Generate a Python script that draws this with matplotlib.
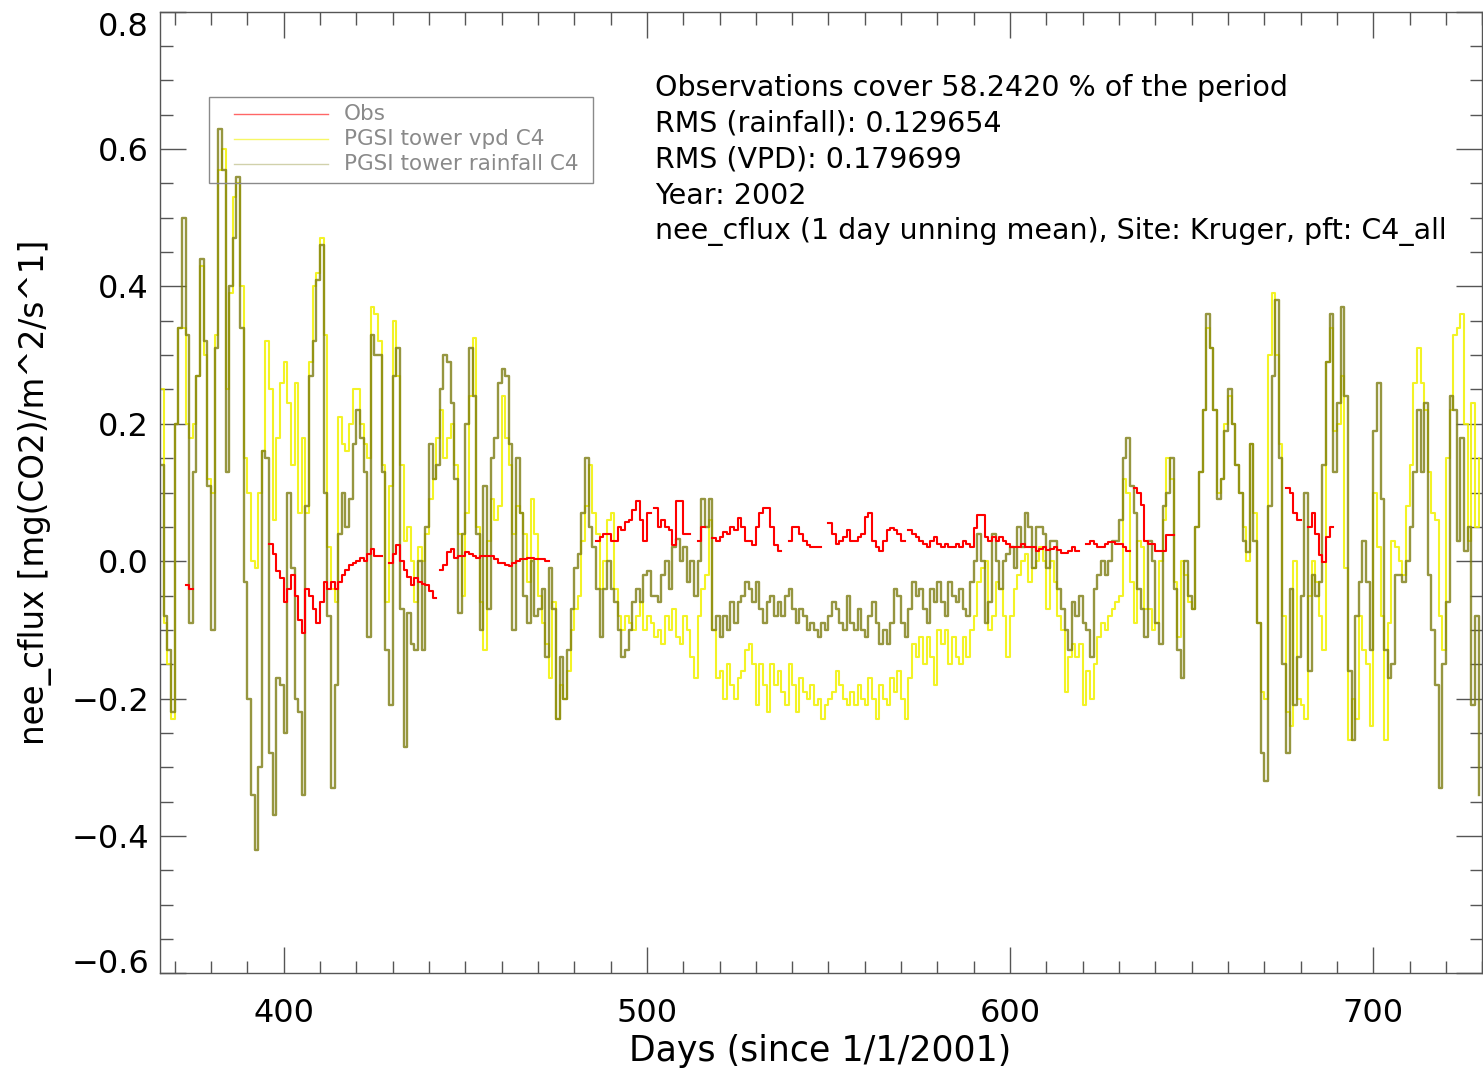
import numpy as np
import matplotlib
matplotlib.use("Agg")
import matplotlib.pyplot as plt
from matplotlib.patches import Rectangle
from matplotlib.ticker import MultipleLocator

n = np.nan
first_day = 366

# PGSI tower rainfall C4 (one value per day, from day 366)
rain_c4 = [
    0.14, -0.08, -0.13, -0.22, 0.2, 0.34, 0.5, 0.33, -0.09, 0.13,
    0.27, 0.44, 0.32, 0.11, -0.1, 0.31, 0.63, 0.57, 0.13, 0.4,
    0.47, 0.56, 0.34, -0.03, -0.2, -0.34, -0.42, -0.3, 0.16, 0.15,
    -0.28, -0.37, -0.17, -0.18, -0.25, 0.1, -0.01, -0.2, -0.22, -0.34,
    0.08, 0.27, 0.32, 0.41, 0.46, 0.1, -0.08, -0.33, -0.18, 0.04,
    0.1, 0.05, 0.09, 0.17, 0.22, 0.18, 0.13, -0.11, 0.33, 0.3,
    0.3, 0.13, -0.13, -0.21, 0.27, 0.31, -0.07, -0.27, -0.075, -0.12,
    -0.13, -0.0, -0.13, 0.05, 0.17, 0.12, 0.14, 0.25, 0.3, 0.29,
    0.23, 0.12, -0.075, 0.04, 0.2, 0.31, 0.24, 0.04, -0.1, 0.11,
    -0.07, 0.15, 0.18, 0.26, 0.28, 0.27, 0.17, -0.1, 0.15, 0.07,
    -0.05, -0.09, -0.0, -0.08, -0.07, -0.04, -0.14, -0.01, -0.07, -0.23,
    -0.14, -0.2, -0.13, -0.07, -0.01, 0.01, 0.07, 0.15, 0.05, 0.02,
    -0.04, -0.11, -0.04, 0.0, -0.04, -0.06, -0.1, -0.14, -0.13, -0.1,
    -0.06, -0.04, -0.06, -0.02, -0.015, -0.05, -0.05, -0.06, -0.02, 0.0,
    -0.04, 0.02, 0.033, 0.0, 0.02, -0.03, 0.0, -0.05, 0.0, 0.09,
    0.05, 0.09, -0.1, -0.08, -0.11, -0.08, -0.1, -0.06, -0.09, -0.06,
    -0.05, -0.03, -0.04, -0.06, -0.03, -0.07, -0.09, -0.06, -0.05, -0.08,
    -0.06, -0.08, -0.05, -0.04, -0.07, -0.09, -0.07, -0.08, -0.1, -0.09,
    -0.1, -0.11, -0.09, -0.1, -0.08, -0.06, -0.07, -0.09, -0.1, -0.05,
    -0.09, -0.1, -0.07, -0.1, -0.11, -0.08, -0.06, -0.09, -0.12, -0.1,
    -0.12, -0.09, -0.04, -0.05, -0.09, -0.11, -0.07, -0.03, -0.05, -0.04,
    -0.07, -0.09, -0.04, -0.06, -0.03, -0.06, -0.08, -0.03, -0.05, -0.06,
    -0.04, -0.07, -0.08, -0.03, 0.0, 0.04, 0.0, -0.09, -0.06, 0.04,
    0.0, -0.04, 0.0, 0.01, 0.02, -0.01, 0.05, 0.02, 0.07, 0.05,
    -0.01, 0.05, 0.05, 0.04, -0.01, 0.03, 0.03, -0.04, -0.07, -0.1,
    -0.13, -0.06, -0.08, -0.05, -0.09, -0.1, -0.14, -0.04, -0.02, 0.0,
    -0.02, 0.0, 0.03, 0.03, 0.06, 0.15, 0.18, 0.11, 0.07, -0.04,
    -0.07, -0.11, 0.03, -0.0, -0.09, -0.12, 0.08, 0.1, 0.15, -0.04,
    -0.13, -0.17, 0.0, -0.05, -0.07, 0.05, 0.13, 0.22, 0.36, 0.31,
    0.22, 0.09, 0.12, 0.19, 0.25, 0.2, 0.14, 0.1, 0.03, 0.014,
    0.17, 0.03, -0.09, -0.28, -0.32, 0.08, 0.27, 0.38, 0.15, -0.15,
    -0.28, -0.04, -0.21, -0.14, -0.05, 0.1, -0.16, -0.02, -0.05, -0.03,
    0.14, 0.29, 0.36, 0.13, 0.23, 0.37, 0.24, -0.16, -0.26, -0.08,
    -0.03, 0.03, -0.03, -0.13, 0.19, 0.26, 0.09, -0.13, -0.17, -0.15,
    -0.02, -0.02, -0.03, 0.0, 0.05, 0.13, 0.22, 0.13, 0.23, -0.02,
    -0.1, -0.18, -0.33, -0.15, -0.06, 0.24, 0.22, 0.03, 0.18, 0.015,
    0.05, -0.21, -0.08, -0.34,
]

# PGSI tower vpd C4
vpd_c4 = [
    0.25, -0.09, -0.15, -0.23, 0.2, 0.34, 0.34, 0.2, 0.18, 0.2,
    0.27, 0.43, 0.3, 0.12, 0.1, 0.33, 0.57, 0.6, 0.25, 0.39,
    0.53, 0.55, 0.4, 0.15, 0.1, 0.0, -0.01, 0.1, 0.16, 0.32,
    0.25, 0.06, 0.18, 0.26, 0.29, 0.23, 0.14, 0.26, 0.07, 0.18,
    0.07, 0.29, 0.4, 0.42, 0.47, 0.33, 0.02, -0.04, -0.06, 0.21,
    0.17, 0.16, 0.2, 0.25, 0.25, 0.2, 0.17, 0.15, 0.37, 0.36,
    0.32, 0.14, -0.06, 0.11, 0.35, 0.27, 0.14, 0.03, 0.05, 0.0,
    -0.06, 0.02, 0.0, 0.04, 0.09, 0.12, 0.18, 0.22, 0.15, 0.18,
    0.2, 0.14, 0.04, -0.05, 0.07, 0.24, 0.325, 0.05, -0.06, -0.13,
    0.03, 0.09, 0.06, 0.08, 0.24, 0.18, 0.14, 0.04, 0.08, 0.07,
    0.04, -0.03, 0.09, 0.04, -0.05, -0.09, -0.12, -0.17, -0.06, -0.23,
    -0.18, -0.2, -0.16, -0.1, -0.07, -0.05, 0.03, 0.08, 0.14, 0.07,
    0.04, -0.04, 0.0, 0.06, 0.07, -0.04, -0.08, -0.1, -0.08, -0.09,
    -0.1, -0.08, -0.06, -0.1, -0.08, -0.09, -0.11, -0.1, -0.12, -0.08,
    -0.1, -0.07, -0.11, -0.12, -0.08, -0.1, -0.14, -0.17, -0.08, -0.04,
    -0.02, 0.06, -0.1, -0.17, -0.16, -0.2, -0.15, -0.18, -0.2, -0.17,
    -0.16, -0.13, -0.12, -0.15, -0.21, -0.15, -0.18, -0.22, -0.15, -0.18,
    -0.16, -0.19, -0.21, -0.15, -0.18, -0.22, -0.17, -0.19, -0.2, -0.18,
    -0.21, -0.2, -0.23, -0.21, -0.2, -0.19, -0.16, -0.18, -0.2, -0.21,
    -0.19, -0.21, -0.18, -0.2, -0.21, -0.17, -0.2, -0.23, -0.18, -0.2,
    -0.21, -0.17, -0.19, -0.16, -0.2, -0.23, -0.17, -0.12, -0.14, -0.11,
    -0.15, -0.11, -0.14, -0.18, -0.1, -0.12, -0.1, -0.15, -0.11, -0.14,
    -0.15, -0.11, -0.14, -0.1, -0.08, -0.03, -0.01, 0.0, -0.1, -0.08,
    -0.03, -0.04, -0.08, -0.14, -0.08, -0.04, -0.02, 0.0, 0.01, -0.03,
    -0.01, 0.0, 0.02, 0.0, -0.07, 0.0, -0.03, -0.08, -0.1, -0.19,
    -0.14, -0.12, -0.14, -0.12, -0.21, -0.16, -0.2, -0.15, -0.11, -0.09,
    -0.1, -0.08, -0.07, -0.06, -0.05, 0.12, 0.1, -0.03, -0.09, 0.03,
    0.02, -0.07, -0.07, -0.1, -0.09, 0.0, 0.06, 0.15, 0.12, -0.03,
    -0.11, 0.0, -0.02, -0.06, -0.07, 0.05, 0.13, 0.22, 0.34, 0.31,
    0.22, 0.1, 0.12, 0.2, 0.24, 0.2, 0.14, 0.1, 0.05, 0.0,
    0.17, 0.07, -0.09, -0.19, -0.2, 0.3, 0.39, 0.3, 0.17, -0.08,
    -0.22, -0.24, 0.0, -0.2, -0.21, -0.23, -0.05, 0.0, -0.03, -0.08,
    -0.13, 0.29, 0.34, 0.19, 0.2, 0.27, -0.01, -0.26, -0.2, -0.23,
    -0.08, -0.13, -0.15, -0.24, 0.1, 0.02, -0.08, -0.26, -0.09, 0.03,
    0.02, 0.0, -0.02, 0.08, 0.14, 0.26, 0.31, 0.26, 0.22, 0.13,
    0.07, 0.06, -0.08, -0.13, 0.15, 0.22, 0.33, 0.34, 0.36, 0.2,
    0.03, 0.23, 0.05, 0.15,
]

# observations (nan = no data)
obs = [
    n, n, n, n, n, n, n, -0.035, -0.04, n,
    n, n, n, n, n, n, n, n, n, n,
    n, n, n, n, n, n, n, n, n, n,
    0.025, 0.01, -0.015, -0.025, -0.06, -0.04, -0.02, -0.05, -0.085, -0.105,
    -0.04, -0.05, -0.07, -0.09, -0.06, -0.03, -0.04, -0.03, -0.04, -0.03,
    -0.02, -0.013, -0.005, -0.002, 0.0, 0.005, 0.0, 0.01, 0.018, 0.008,
    0.008, n, n, -0.002, 0.01, 0.024, 0.0, -0.013, -0.023, -0.034,
    -0.025, -0.03, -0.033, -0.034, -0.044, -0.054, n, -0.013, -0.005, 0.013,
    0.018, 0.005, 0.008, 0.008, 0.013, 0.01, 0.008, 0.005, 0.008, 0.008,
    0.008, 0.008, 0.003, -0.002, -0.002, -0.005, -0.007, -0.002, 0.0, 0.003,
    0.003, 0.005, 0.005, 0.003, 0.003, 0.003, 0.0, n, n, n,
    n, n, n, n, n, n, n, n, n, n,
    0.03, 0.035, 0.04, 0.04, 0.03, 0.03, 0.05, 0.045, 0.057, 0.06,
    0.075, 0.087, 0.06, 0.03, 0.07, n, 0.077, 0.05, 0.06, 0.05,
    0.045, 0.024, 0.087, 0.087, 0.04, 0.04, n, n, 0.03, 0.05,
    n, n, 0.034, 0.03, 0.035, 0.043, 0.04, 0.05, 0.045, 0.063,
    0.05, 0.03, 0.03, 0.024, 0.05, 0.07, 0.077, 0.077, 0.05, 0.024,
    0.015, n, n, 0.03, 0.05, 0.05, 0.04, 0.03, 0.024, 0.02,
    0.02, 0.02, n, n, 0.055, 0.04, 0.025, 0.03, 0.035, 0.045,
    0.03, 0.03, 0.035, 0.04, 0.065, 0.07, 0.03, 0.02, 0.015, 0.03,
    0.045, 0.048, 0.045, 0.04, 0.03, n, 0.045, 0.04, 0.035, 0.03,
    0.025, 0.02, 0.03, 0.035, 0.025, 0.02, 0.025, 0.02, 0.02, 0.025,
    0.02, 0.03, 0.025, 0.02, 0.048, 0.067, 0.067, 0.035, 0.03, 0.035,
    0.03, 0.035, 0.03, 0.025, 0.02, 0.02, 0.02, 0.025, 0.02, 0.02,
    0.02, 0.015, 0.018, 0.02, 0.016, 0.018, 0.02, 0.016, 0.012, 0.012,
    0.015, 0.02, 0.015, n, n, 0.025, 0.03, 0.025, 0.02, 0.02,
    0.025, 0.028, 0.028, 0.025, 0.025, 0.02, 0.015, n, 0.106, 0.1,
    0.082, 0.03, 0.025, 0.025, 0.015, 0.015, 0.015, 0.038, 0.038, n,
    n, n, n, n, n, n, n, n, n, n,
    n, n, n, n, n, n, n, n, n, n,
    n, n, n, n, n, n, n, n, n, n,
    0.106, 0.1, 0.07, 0.06, n, n, 0.05, 0.07, 0.04, 0.009,
    -0.001, 0.035, 0.05, n, n, n, n, n, n, n,
    n, n, n, n, n, n, n, n, n, n,
    n, n, n, n, n, n, n, n, n, n,
    n, n, n, n, n, n, n, n, n, n,
    n, n, n, n,
]

labels = ["Obs", "PGSI tower vpd C4", "PGSI tower rainfall C4"]
info_lines = [
    "Observations cover 58.2420 % of the period",
    "RMS (rainfall): 0.129654",
    "RMS (VPD): 0.179699",
    "Year: 2002",
    "nee_cflux (1 day unning mean), Site: Kruger, pft: C4_all",
]
y_ticks = [-0.6, -0.4, -0.2, 0.0, 0.2, 0.4, 0.6, 0.8]

days = first_day + np.arange(len(rain_c4))

fig = plt.figure(figsize=(14.83, 10.73), dpi=100)
ax = fig.add_axes([0.108, 0.093, 0.8915, 0.896])

c_obs = "#ff0000"
c_vpd = "#f2f200"
c_rain = "#7c7c10"

ax.plot(days, vpd_c4, drawstyle="steps-post", color=c_vpd, lw=1.5, alpha=0.85)
ax.plot(days, rain_c4, drawstyle="steps-post", color=c_rain, lw=1.7, alpha=0.8)
ax.plot(days, obs, drawstyle="steps-post", color=c_obs, lw=1.5)

ax.set_xlim(366, 730)
ax.set_ylim(-0.6, 0.8)

ax.xaxis.set_major_locator(MultipleLocator(100))
ax.xaxis.set_minor_locator(MultipleLocator(10))
ax.yaxis.set_minor_locator(MultipleLocator(0.05))
ax.set_yticks(y_ticks)
ax.set_yticklabels([("%.1f" % v).replace("-", "\u2212") for v in y_ticks])

axc = "#555555"
for s in ax.spines.values():
    s.set_color(axc)
    s.set_linewidth(1.0)
ax.tick_params(which="both", direction="in", top=True, right=True, color=axc, width=1.0)
ax.tick_params(which="major", length=18.5)
ax.tick_params(which="minor", length=9)
ax.tick_params(axis="x", labelsize=23, pad=18)
ax.tick_params(axis="y", labelsize=23, pad=8)

ylabs = ax.get_yticklabels()
ylabs[0].set_va("baseline")
ylabs[-1].set_va("top")

ax.set_xlabel("Days (since 1/1/2001)", fontsize=25)
ax.xaxis.label.set_va("center")
ax.xaxis.set_label_coords(0.499, -0.081)
ax.set_ylabel("nee_cflux [mg(CO2)/m^2/s^1]", fontsize=23.5)
ax.yaxis.label.set_va("center")
ax.yaxis.set_label_coords(-0.095, 0.5)

for i, line in enumerate(info_lines):
    ax.text(0.3744, 0.921 - i * 0.0375, line, transform=ax.transAxes,
            fontsize=20.5, va="center", ha="left", color="black")

# legend box drawn by hand (IDL style: wide padding, thin grey frame)
leg_grey = "#8a8a8a"
ax.add_patch(Rectangle((0.037, 0.822), 0.2905, 0.0895, transform=ax.transAxes,
                       fill=False, edgecolor=leg_grey, lw=1.0, zorder=5))
leg_colors = [(c_obs, 0.6), (c_vpd, 0.6), (c_rain, 0.35)]
for i, (lab, (col, al)) in enumerate(zip(labels, leg_colors)):
    yy = 0.8939 - i * 0.026
    ax.plot([0.056, 0.127], [yy, yy], transform=ax.transAxes, color=col,
            alpha=al, lw=1.0, zorder=5)
    ax.text(0.139, yy, lab, transform=ax.transAxes, fontsize=15.5,
            color=leg_grey, va="center", ha="left", zorder=5)

fig.savefig("out.png", dpi=100)
